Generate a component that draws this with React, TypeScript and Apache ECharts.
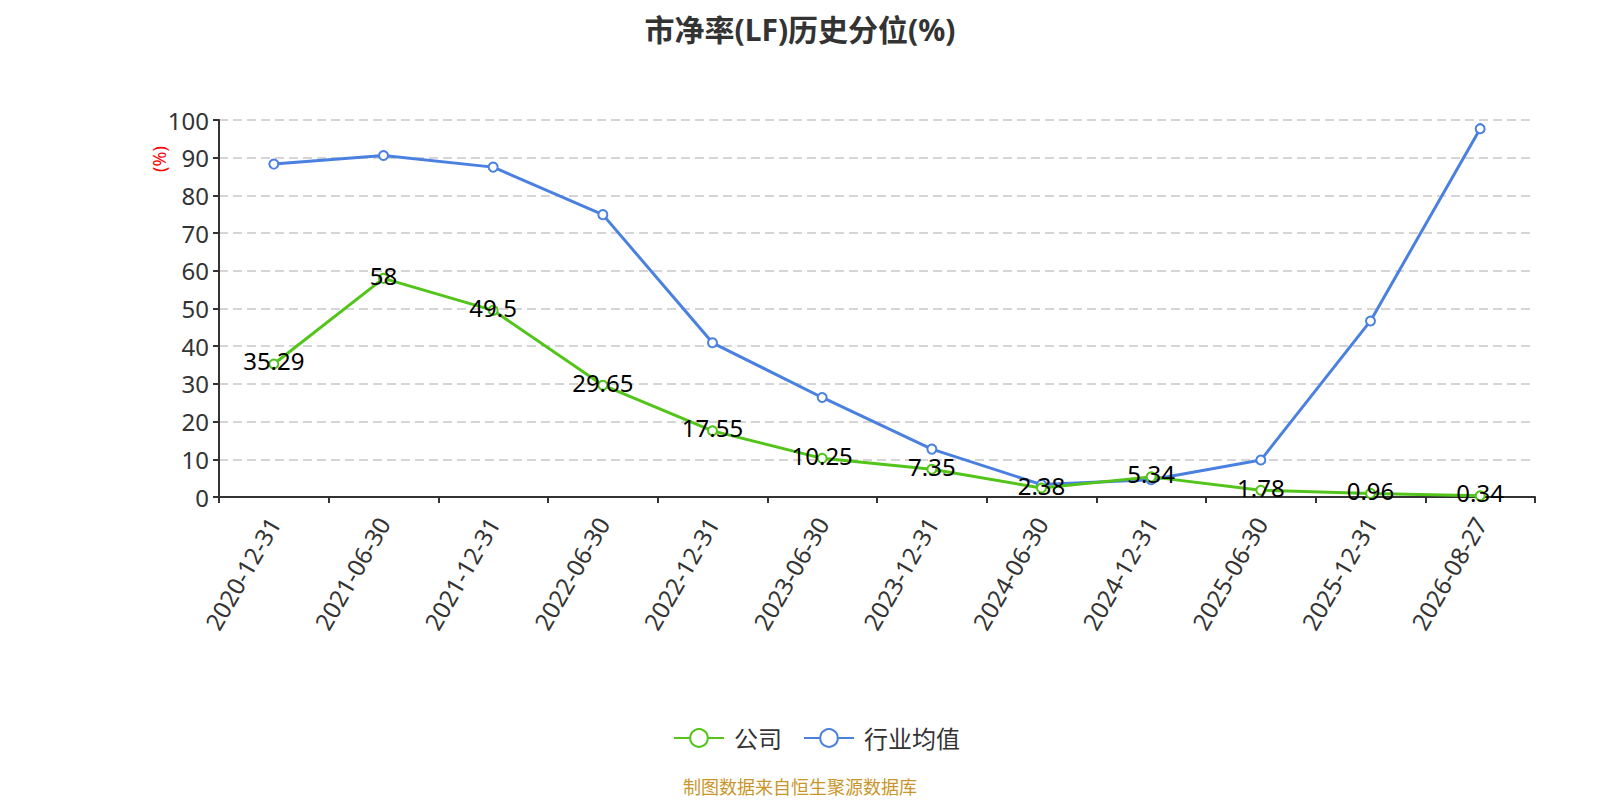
import React, { useEffect, useRef } from "react";
import * as echarts from "echarts";

const categories = [
  "2020-12-31", "2021-06-30", "2021-12-31", "2022-06-30", "2022-12-31", "2023-06-30",
  "2023-12-31", "2024-06-30", "2024-12-31", "2025-06-30", "2025-12-31", "2026-08-27",
];
const companyValues = [35.29, 58, 49.5, 29.65, 17.55, 10.25, 7.35, 2.38, 5.34, 1.78, 0.96, 0.34];
const industryValues = [88.3, 90.6, 87.5, 74.9, 40.9, 26.4, 12.7, 3.3, 4.6, 9.8, 46.7, 97.7];
const seriesNames = ["公司", "行业均值"];
const titleText = "市净率(LF)历史分位(%)";
const footerText = "制图数据来自恒生聚源数据库";

const FONT = '"Noto Sans", "Noto Sans CJK SC", sans-serif';

export default function App() {
  const ref = useRef<HTMLDivElement>(null);
  useEffect(() => {
    const chart = echarts.init(ref.current!, null, { renderer: "svg" });
    chart.setOption({
      animation: false,
      textStyle: { fontFamily: FONT },
      title: {
        text: titleText,
        left: "center",
        top: 6,
        padding: 0,
        textStyle: { fontSize: 30, lineHeight: 30, fontWeight: "bold", color: "#333", fontFamily: FONT },
      },
      legend: {
        top: 713,
        left: 660,
        itemWidth: 50,
        itemHeight: 22,
        itemGap: 21,
        textStyle: { fontSize: 24, color: "#333", fontFamily: FONT, padding: [0, 0, 0, 5] },
        data: seriesNames,
      },
      grid: { left: 211, right: 57, top: 112, bottom: 311 },
      xAxis: {
        type: "category",
        data: categories,
        boundaryGap: true,
        axisLine: { lineStyle: { color: "#333", width: 2 } },
        axisTick: { show: true, length: 6, lineStyle: { color: "#333", width: 2 } },
        axisLabel: { rotate: 60, fontSize: 24, color: "#333", margin: 22, interval: 0 },
      },
      yAxis: {
        type: "value",
        min: 0,
        max: 100,
        interval: 10,
        axisLine: { show: true, lineStyle: { color: "#333", width: 2 } },
        axisTick: { show: true, length: 6, lineStyle: { color: "#333", width: 2 } },
        axisLabel: { fontSize: 24, color: "#333", margin: 10 },
        splitLine: { lineStyle: { type: [9, 5], color: "#c8c8c8", width: 1.5 } },
      },
      graphic: [
        {
          type: "text",
          x: 151,
          y: 151,
          rotation: Math.PI / 2,
          style: {
            text: "(%)",
            fill: "#ff0000",
            fontSize: 18,
            fontFamily: FONT,
            align: "center",
            verticalAlign: "middle",
          },
        },
        {
          type: "text",
          left: "center",
          top: 770,
          style: { text: footerText, fill: "#c9962a", fontSize: 18, fontFamily: FONT },
        },
      ],
      series: [
        {
          name: seriesNames[0],
          type: "line",
          data: companyValues,
          symbol: "emptyCircle",
          symbolSize: 9,
          itemStyle: { color: "#52c41a" },
          lineStyle: { width: 3, color: "#52c41a" },
          label: {
            show: true,
            position: "inside",
            offset: [0, -3],
            fontSize: 24,
            color: "#000",
            fontFamily: FONT,
          },
          z: 3,
        },
        {
          name: seriesNames[1],
          type: "line",
          data: industryValues,
          symbol: "emptyCircle",
          symbolSize: 9,
          itemStyle: { color: "#4a80e0" },
          lineStyle: { width: 3, color: "#4a80e0" },
          z: 2,
        },
      ],
    });
    return () => chart.dispose();
  }, []);
  return <div ref={ref} style={{ width: 1584, height: 800 }} />;
}
